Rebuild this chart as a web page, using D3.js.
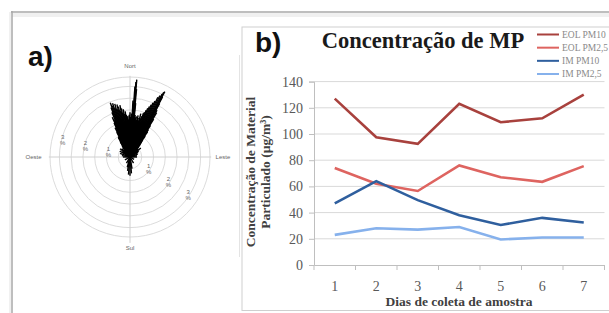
<!DOCTYPE html>
<html>
<head>
<meta charset="utf-8">
<script src="https://cdn.jsdelivr.net/npm/d3@7"></script>
<style>
  html, body { margin: 0; padding: 0; background: #fff; }
  svg { display: block; }
</style>
</head>
<body>
<svg id="chart" width="609" height="313"></svg>
<script>
// --- b) line chart data ---
const days = ['1', '2', '3', '4', '5', '6', '7'];
const eolPm10 = [127, 97.5, 92.5, 123, 109, 112, 130];
const eolPm25 = [74, 62, 56.5, 76, 67, 63.5, 75.5];
const imPm10 = [47, 64, 49.5, 38, 30.5, 36, 32.5];
const imPm25 = [23, 28, 27, 29, 19.5, 21, 21];
const seriesNames = ['EOL PM10', 'EOL PM2,5', 'IM PM10', 'IM PM2,5'];
const seriesColors = ['#a8413d', '#de6460', '#2f5f9e', '#86b1ec'];
const yTicks = [0, 20, 40, 60, 80, 100, 120, 140];

// --- a) wind rose data (direction in degrees from north, frequency in %) ---
const windDir = [-90, -80, -70, -60, -55, -50, -45,
  -40, -39, -38, -37, -36, -35, -34, -33, -32, -31,
  -30, -29, -28, -27, -26, -25, -24, -23, -22, -21,
  -20, -19, -18, -17, -16, -15, -14, -13, -12, -11,
  -10, -9, -8, -7, -6, -5, -4, -3, -2, -1,
  0, 1, 2, 3, 4, 4.5, 5, 5.5, 6, 7, 8, 9,
  10, 11, 12, 13, 14, 15, 16, 17, 18, 19,
  20, 21, 22, 23, 24, 25, 26, 27, 27.5, 28, 28.5, 29,
  30, 31, 32, 33, 34, 35, 36, 37, 38, 39,
  40, 45, 50, 55, 60, 70, 80, 90, 120, 150,
  170, 175, 180, 185, 190, 195, 210, 240];
const windPct = [0.3, 0.35, 0.45, 0.5, 0.4, 0.55, 0.5,
  0.3, 0.4, 0.35, 0.5, 0.45, 0.6, 0.55, 0.75, 0.8, 0.95,
  1.0, 0.9, 1.2, 1.4, 1.3, 1.6, 1.85, 1.7, 2.05, 2.25,
  2.45, 2.3, 2.4, 2.2, 2.35, 2.1, 2.3, 2.2, 2.0, 2.25,
  2.1, 1.9, 2.05, 1.85, 1.95, 1.8, 1.7, 1.75, 1.6, 1.8,
  1.9, 1.7, 1.85, 2.4, 3.0, 3.2, 3.3, 2.9, 2.3, 1.8, 1.7, 1.75,
  1.6, 1.8, 1.7, 1.6, 1.9, 1.7, 1.8, 1.95, 2.0, 2.1,
  2.2, 2.3, 2.4, 2.5, 2.6, 2.8, 2.9, 3.0, 3.1, 3.15, 2.9, 2.6,
  2.3, 2.2, 1.9, 1.6, 1.4, 1.3, 1.1, 0.9, 0.8, 0.7,
  0.6, 0.5, 0.6, 0.45, 0.4, 0.35, 0.3, 0.3, 0.2, 0.3,
  0.5, 0.7, 0.8, 0.75, 0.6, 0.45, 0.3, 0.25];
const ringLevels = [0.5, 1, 1.5, 2, 2.5, 3, 3.4];
const pctLabels = [1, 2, 3];
const compass = [
  { name: 'Nort', deg: 0 },
  { name: 'Leste', deg: 90 },
  { name: 'Sul', deg: 180 },
  { name: 'Oeste', deg: 270 }
];

const svg = d3.select('#chart');
const serif = "'Liberation Serif', 'Times New Roman', serif";
const sans = "'Liberation Sans', Arial, sans-serif";

// page frame
svg.append('rect').attr('x', 12).attr('y', 13).attr('width', 597).attr('height', 4).attr('fill', '#f0f0f0');
svg.append('line').attr('x1', 11).attr('x2', 609).attr('y1', 12).attr('y2', 12)
  .attr('stroke', '#a9a9a9').attr('stroke-width', 1.5);
svg.append('line').attr('x1', 12).attr('x2', 12).attr('y1', 11).attr('y2', 313)
  .attr('stroke', '#a9a9a9').attr('stroke-width', 1.5);
svg.append('line').attr('x1', 10).attr('x2', 10).attr('y1', 12).attr('y2', 313)
  .attr('stroke', '#e2e2e2').attr('stroke-width', 1);

// ---------------- a) wind rose ----------------
svg.append('text').attr('x', 28).attr('y', 66)
  .attr('font-family', sans).attr('font-weight', 'bold').attr('font-size', 28)
  .attr('fill', '#111').text('a)');

svg.append('line').attr('x1', 239.5).attr('x2', 239.5).attr('y1', 55).attr('y2', 257)
  .attr('stroke', '#e4e4e4');

const cx = 130, cy = 157;
const r = d3.scaleLinear().domain([0, 3.4]).range([0, 80]);
const rose = svg.append('g').attr('transform', `translate(${cx},${cy})`);

rose.selectAll('circle.ring')
  .data(ringLevels)
  .enter()
  .append('circle')
  .attr('class', 'ring')
  .attr('r', d => r(d))
  .attr('fill', 'none')
  .attr('stroke', '#dcdcdc')
  .attr('stroke-width', 1);

// cross hairs
rose.append('line').attr('x1', -r(3.45)).attr('x2', r(3.45)).attr('y1', 0).attr('y2', 0)
  .attr('stroke', '#d0d0d0');
rose.append('line').attr('x1', 0).attr('x2', 0).attr('y1', -r(3.45)).attr('y2', r(3.65))
  .attr('stroke', '#d0d0d0');

const spoke = d3.lineRadial().angle(d => d[0]).radius(d => d[1]);
const toRad = d => d * Math.PI / 180;

rose.selectAll('path.spike')
  .data(windDir.map((d, i) => ({ dir: d, pct: windPct[i] })))
  .enter()
  .append('path')
  .attr('class', 'spike')
  .attr('d', d => spoke([[toRad(d.dir), 0], [toRad(d.dir), r(d.pct)]]))
  .attr('stroke', '#000')
  .attr('stroke-width', 1.4)
  .attr('fill', 'none');

// compass labels
const compassPos = {
  'Nort': [0, -r(3.8)],
  'Leste': [r(3.95), 2],
  'Sul': [0, r(3.95)],
  'Oeste': [-r(4.1), 2]
};
rose.selectAll('text.compass')
  .data(compass)
  .enter()
  .append('text')
  .attr('class', 'compass')
  .attr('x', d => compassPos[d.name][0])
  .attr('y', d => compassPos[d.name][1])
  .attr('text-anchor', 'middle')
  .attr('font-family', sans)
  .attr('font-size', 6)
  .attr('fill', '#666')
  .text(d => d.name);

// percent labels on two spokes
[-76, 123].forEach(deg => {
  const g = rose.append('g');
  pctLabels.forEach(p => {
    const px = r(p - 0.05) * Math.sin(toRad(deg));
    const py = -r(p - 0.05) * Math.cos(toRad(deg));
    const t = g.append('text')
      .attr('x', px).attr('y', py - 1)
      .attr('text-anchor', 'middle')
      .attr('font-family', sans).attr('font-size', 6).attr('fill', '#666');
    t.append('tspan').attr('x', px).text(p);
    t.append('tspan').attr('x', px).attr('dy', 6).text('%');
  });
});

// ---------------- b) line chart ----------------
svg.append('rect').attr('x', 242).attr('y', 27).attr('width', 400).attr('height', 283.5)
  .attr('fill', '#fff').attr('stroke', '#cfcfcf').attr('stroke-width', 1);

svg.append('text').attr('x', 255).attr('y', 51.5)
  .attr('font-family', sans).attr('font-weight', 'bold').attr('font-size', 28)
  .attr('fill', '#111').text('b)');

svg.append('text').attr('x', 423).attr('y', 47.5)
  .attr('text-anchor', 'middle')
  .attr('font-family', serif).attr('font-weight', 'bold').attr('font-size', 22.5)
  .attr('fill', '#1a1a1a').text('Concentração de MP');

const x = d3.scaleBand().domain(days).range([314, 604.5]);
const y = d3.scaleLinear().domain([0, 140]).range([265, 81.6]);

// gridlines
svg.append('g')
  .selectAll('line')
  .data(yTicks.slice(1))
  .enter()
  .append('line')
  .attr('x1', 314).attr('x2', 604.5)
  .attr('y1', d => y(d)).attr('y2', d => y(d))
  .attr('stroke', '#d9d9d9').attr('stroke-width', 1);

// y axis
const yAxis = svg.append('g')
  .attr('transform', 'translate(314,0)')
  .call(d3.axisLeft(y).tickValues(yTicks).tickSize(5).tickPadding(6));
yAxis.select('.domain').attr('stroke', '#bfbfbf');
yAxis.selectAll('.tick line').attr('stroke', '#bfbfbf');
yAxis.selectAll('.tick text')
  .attr('font-family', serif).attr('font-size', 14).attr('fill', '#595959');

// x axis: labels at band centres, tick marks at band edges
const xAxis = svg.append('g')
  .attr('transform', 'translate(0,265)')
  .call(d3.axisBottom(x).tickSize(0).tickPadding(16));
xAxis.select('.domain').attr('stroke', '#bfbfbf');
xAxis.selectAll('.tick text')
  .attr('font-family', serif).attr('font-size', 14).attr('fill', '#595959');
xAxis.selectAll('line.edge')
  .data(days.map(d => x(d)).concat([x.range()[1]]))
  .enter()
  .append('line')
  .attr('class', 'edge')
  .attr('x1', d => d).attr('x2', d => d)
  .attr('y1', 0).attr('y2', 5)
  .attr('stroke', '#bfbfbf');

// axis titles
svg.append('text')
  .attr('x', 459).attr('y', 306)
  .attr('text-anchor', 'middle')
  .attr('font-family', serif).attr('font-weight', 'bold').attr('font-size', 13.5)
  .attr('fill', '#404040').text('Dias de coleta de amostra');

const yTitle = svg.append('text')
  .attr('transform', 'translate(0,172) rotate(-90)')
  .attr('text-anchor', 'middle')
  .attr('font-family', serif).attr('font-weight', 'bold').attr('font-size', 13.5)
  .attr('fill', '#404040');
yTitle.append('tspan').attr('x', 0).attr('y', 254.5).text('Concentração de Material');
yTitle.append('tspan').attr('x', 0).attr('y', 269.5).text('Particulado (µg/m³)');

// lines
const allSeries = [eolPm10, eolPm25, imPm10, imPm25];
const line = d3.line()
  .x((d, i) => x(days[i]) + x.bandwidth() / 2)
  .y(d => y(d));

svg.append('g')
  .selectAll('path')
  .data(allSeries)
  .enter()
  .append('path')
  .attr('d', d => line(d))
  .attr('fill', 'none')
  .attr('stroke', (d, i) => seriesColors[i])
  .attr('stroke-width', 2.6)
  .attr('stroke-linejoin', 'miter');

// legend
const legend = svg.append('g');
const legendRow = d3.scalePoint().domain(seriesNames).range([34.5, 74]);
seriesNames.forEach((name, i) => {
  legend.append('line')
    .attr('x1', 537).attr('x2', 559)
    .attr('y1', legendRow(name)).attr('y2', legendRow(name))
    .attr('stroke', seriesColors[i]).attr('stroke-width', 2);
  legend.append('text')
    .attr('x', 562).attr('y', legendRow(name) + 3)
    .attr('font-family', serif).attr('font-size', 9.5).attr('fill', '#8a8a8a')
    .text(name);
});
</script>
</body>
</html>
